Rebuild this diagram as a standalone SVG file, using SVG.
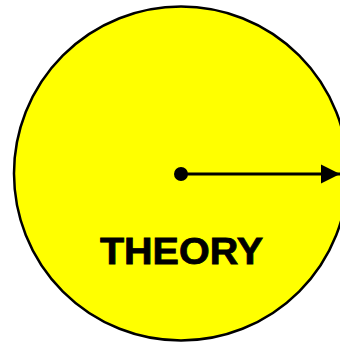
<svg xmlns="http://www.w3.org/2000/svg" width="340" height="343" viewBox="0 0 340 343">
<style>
.label{font-family:"Liberation Sans",Arial,sans-serif;font-weight:bold;font-size:36px;fill:#000}
</style>
<defs>
<marker id="arrow" markerWidth="6" markerHeight="6" refX="6" refY="3" orient="auto" markerUnits="strokeWidth">
<path d="M0,0 L6,3 L0,6 Z" fill="#000"/>
</marker>
</defs>
<rect width="340" height="343" fill="#fff"/>
<g id="theory">
<circle cx="181" cy="173.5" r="167" fill="#ffff00" stroke="#000" stroke-width="2.5"/>
<text class="label" x="181.5" y="264" text-anchor="middle" textLength="163" lengthAdjust="spacingAndGlyphs" stroke="#000" stroke-width="0.8">THEORY</text>
</g>
<g id="connectors">
<circle cx="181" cy="174" r="7" fill="#000"/>
<line x1="181" y1="174" x2="340" y2="174" stroke="#000" stroke-width="3.2" marker-end="url(#arrow)"/>
</g>
</svg>
